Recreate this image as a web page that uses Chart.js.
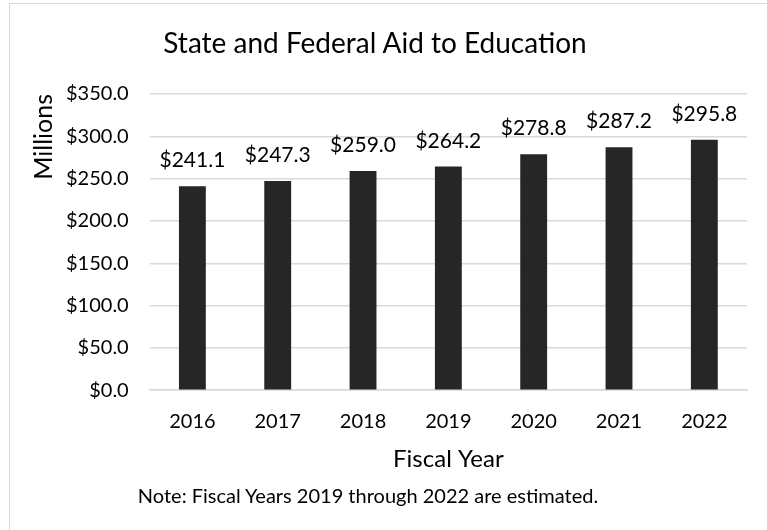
<!DOCTYPE html>
<html>
<head>
<meta charset="utf-8">
<title>State and Federal Aid to Education</title>
<script src="https://cdn.jsdelivr.net/npm/chart.js@4.4.1/dist/chart.umd.min.js"></script>
<style>
  html, body { margin: 0; padding: 0; background: #fff; overflow: hidden; }
  body { width: 767px; height: 530px; position: relative; font-family: Lato, "Open Sans", sans-serif; color: #000; }
  #frame { position: absolute; left: 9px; top: 3px; width: 800px; height: 600px; border: 1px solid #d9d9d9; box-sizing: border-box; }
  #chart { position: absolute; left: 0; top: 0; }
  .caption { position: absolute; white-space: nowrap; transform: translateX(-50%); line-height: 1; }
  #title { left: 375px; top: 28px; font-size: 28px; }
  #note { left: 368px; top: 485px; font-size: 20px; }
</style>
</head>
<body>
<div id="frame"></div>
<canvas id="chart" width="767" height="530"></canvas>
<div id="title" class="caption">State and Federal Aid to Education</div>
<div id="note" class="caption">Note: Fiscal Years 2019 through 2022 are estimated.</div>
<script>
const years = ["2016","2017","2018","2019","2020","2021","2022"];
const aid = [241.1, 247.3, 259.0, 264.2, 278.8, 287.2, 295.8];
const yTicks = [0, 50, 100, 150, 200, 250, 300, 350];

function money(v){
    return "$" + Number(v).toFixed(1);
}

// writes the value above each bar
const barLabels = {
    id: 'barLabels',
    afterDatasetsDraw(chart){
        const ctx = chart.ctx;
        const meta = chart.getDatasetMeta(0);
        ctx.save();
        ctx.font = "21px Lato";
        ctx.fillStyle = "#000";
        ctx.textAlign = "center";
        ctx.textBaseline = "alphabetic";
        meta.data.forEach(function(bar, i){
            ctx.fillText(money(aid[i]), bar.x, bar.y - 19);
        });
        ctx.restore();
    }
};

const gridColor = "#d9d9d9";

new Chart(document.getElementById("chart"), {
    type: 'bar',
    data: {
        labels: years,
        datasets: [{
            label: 'Aid',
            data: aid,
            backgroundColor: '#262626',
            borderWidth: 0,
            barPercentage: 0.63,
            categoryPercentage: 0.5
        }]
    },
    options: {
        responsive: false,
        animation: false,
        devicePixelRatio: 1,
        layout: { padding: { left: 31, right: 20, top: 94, bottom: 56 } },
        plugins: {
            legend: { display: false },
            tooltip: { enabled: false },
            title: { display: false }
        },
        scales: {
            x: {
                grid: { display: false, drawTicks: false },
                border: { display: true, color: gridColor, width: 1.5 },
                ticks: { color: '#000', font: { family: 'Lato', size: 20 }, padding: 19 },
                title: {
                    display: true,
                    text: 'Fiscal Year',
                    color: '#000',
                    font: { family: 'Lato', size: 24 },
                    // ticks padding is counted twice in the axis height, so pull the title box in
                    padding: { top: -7, bottom: 0 }
                }
            },
            y: {
                min: 0,
                max: 350,
                afterBuildTicks(scale){
                    scale.ticks = yTicks.map(function(v){ return { value: v }; });
                },
                grid: { color: gridColor, lineWidth: 1.5, drawTicks: false },
                border: { display: false },
                ticks: {
                    color: '#000',
                    font: { family: 'Lato', size: 20 },
                    padding: 21,
                    callback: function(v){ return money(v); }
                },
                title: {
                    display: true,
                    text: 'Millions',
                    align: 'end',
                    color: '#000',
                    font: { family: 'Lato', size: 25, lineHeight: 1 },
                    padding: { top: 0, bottom: -11 }
                }
            }
        }
    },
    plugins: [barLabels]
});
</script>
</body>
</html>
